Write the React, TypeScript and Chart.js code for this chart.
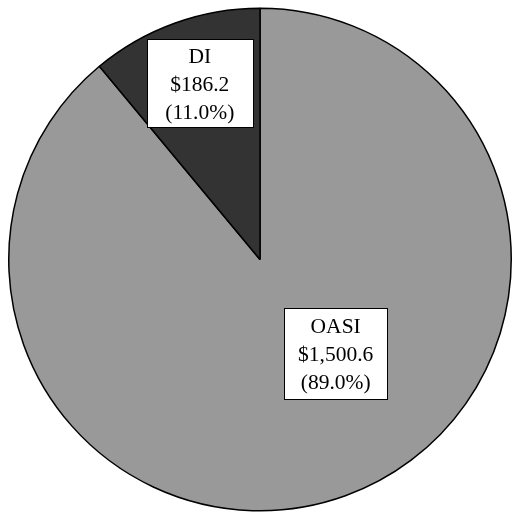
import React, { useEffect, useRef } from "react";
import { Chart, registerables } from "chart.js";

Chart.register(...registerables);

const categories = ["OASI", "DI"];
const values = [1500.6, 186.2];
const valueLabels = ["$1,500.6", "$186.2"];
const percentLabels = ["(89.0%)", "(11.0%)"];
const colors = ["#999999", "#333333"];
// label placement: fraction of radius, angle shift in degrees from slice mid-angle
const labelRadius = [0.48, 0.741];
const labelAngleShift = [-19, 1];
const labelBoxW = [103, 106];
const labelBoxH = [91, 88];

const labelPlugin = {
  id: "boxLabels",
  afterDatasetsDraw(chart: any) {
    const ctx = chart.ctx;
    const meta = chart.getDatasetMeta(0);
    ctx.save();
    ctx.font = "21.5px 'Liberation Serif', 'Times New Roman', serif";
    ctx.textAlign = "center";
    ctx.textBaseline = "middle";
    const lineH = 28;
    meta.data.forEach((arc: any, i: number) => {
      const p = arc.getProps(["x", "y", "startAngle", "endAngle", "outerRadius"], true);
      const mid = (p.startAngle + p.endAngle) / 2 + (labelAngleShift[i] * Math.PI) / 180;
      const r = p.outerRadius * labelRadius[i];
      const cx = p.x + Math.cos(mid) * r;
      const cy = p.y + Math.sin(mid) * r;
      const lines = [categories[i], valueLabels[i], percentLabels[i]];
      const w = labelBoxW[i];
      const h = labelBoxH[i];
      const x0 = Math.round(cx - w / 2);
      const y0 = Math.round(cy - h / 2);
      ctx.fillStyle = "#ffffff";
      ctx.fillRect(x0, y0, w, h);
      ctx.strokeStyle = "#000000";
      ctx.lineWidth = 1;
      ctx.strokeRect(x0 + 0.5, y0 + 0.5, w, h);
      ctx.fillStyle = "#000000";
      lines.forEach((l, k) => {
        ctx.fillText(l, cx, cy + (k - (lines.length - 1) / 2) * lineH + 2);
      });
    });
    ctx.restore();
  },
};

export default function App() {
  const ref = useRef<HTMLCanvasElement>(null);
  useEffect(() => {
    if (!ref.current) return;
    const chart = new Chart(ref.current, {
      type: "pie",
      data: {
        labels: categories,
        datasets: [
          {
            data: values,
            backgroundColor: colors,
            borderColor: "#000000",
            borderWidth: 1.5,
          },
        ],
      },
      options: {
        animation: false,
        responsive: false,
        layout: { padding: { left: 8, top: 7, right: 0, bottom: 0 } },
        plugins: {
          legend: { display: false },
          tooltip: { enabled: false },
        },
      },
      plugins: [labelPlugin],
    });
    return () => chart.destroy();
  }, []);
  return (
    <div style={{ position: "fixed", left: 0, top: 0, width: 512, height: 512, background: "#fff" }}>
      <canvas ref={ref} width={512} height={512} style={{ display: "block" }} />
    </div>
  );
}
